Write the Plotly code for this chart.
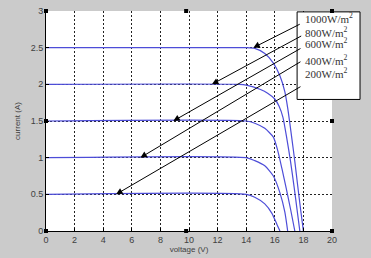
import plotly.graph_objects as go

# ---- data ----
labels = ["1000W/m<sup>2</sup>", "800W/m<sup>2</sup>", "600W/m<sup>2</sup>",
          "400W/m<sup>2</sup>", "200W/m<sup>2</sup>"]

v1000 = [0, 13, 14, 14.6, 15.3, 15.9, 16.35, 16.7, 16.9, 17.05, 17.2, 17.4, 17.6, 17.8, 18.0]
i1000 = [2.5, 2.5, 2.5, 2.49, 2.42, 2.29, 2.12, 1.9, 1.68, 1.47, 1.25, 0.95, 0.62, 0.3, 0]

v800 = [0, 13.5, 14, 15, 15.5, 16, 16.3, 16.57, 16.85, 17.1, 17.35, 17.55, 17.75]
i800 = [2, 2, 1.99, 1.93, 1.88, 1.8, 1.7, 1.55, 1.25, 0.95, 0.6, 0.3, 0]

v600 = [0, 14, 14.6, 15.3, 15.9, 16.2, 16.5, 16.8, 17.1, 17.4]
i600 = [1.5, 1.5, 1.47, 1.4, 1.28, 1.1, 0.85, 0.58, 0.3, 0]

v400 = [0, 14, 14.6, 15.3, 15.9, 16.36, 16.7, 16.9]
i400 = [1, 1, 0.96, 0.89, 0.75, 0.52, 0.26, 0]

v200 = [0, 14, 14.6, 15.3, 15.8, 16.15, 16.36]
i200 = [0.5, 0.5, 0.46, 0.37, 0.24, 0.09, 0]

# arrow heads (on curves) and tails (at legend text)
head_v = [14.5, 11.6, 8.9, 6.6, 4.9]
head_i = [2.5, 2.0, 1.5, 1.0, 0.5]
tail_v = [17.85, 17.95, 17.9, 17.9, 17.9]
tail_i = [2.83, 2.67, 2.5, 2.32, 1.98]
label_i = [2.91, 2.72, 2.56, 2.33, 2.15]

x_ticks = list(range(0, 21, 2))
y_ticks = [0, 0.5, 1, 1.5, 2, 2.5, 3]
y_tick_text = ["0", "0.5", "1", "1.5", "2", "2.5", "3"]

curve_color = "#4d4dd8"

fig = go.Figure()
for vv, ii in [(v1000, i1000), (v800, i800), (v600, i600), (v400, i400), (v200, i200)]:
    fig.add_trace(go.Scatter(x=vv, y=ii, mode="lines",
                             line=dict(color=curve_color, width=1.2, shape="spline", smoothing=0.6),
                             showlegend=False, hoverinfo="skip"))

# legend box
fig.add_shape(type="rect", xref="paper", yref="paper", x0=0.878, x1=1.098, y0=0.598, y1=0.996,
              fillcolor="white", line=dict(color="black", width=1), layer="above")

for k in range(5):
    fig.add_annotation(x=head_v[k], y=head_i[k], ax=tail_v[k], ay=tail_i[k], axref="x", ayref="y",
                       xref="x", yref="y", text="", showarrow=True, arrowhead=2, arrowsize=1.3,
                       arrowwidth=1, arrowcolor="black")
    fig.add_annotation(x=18.0, y=label_i[k], xref="x", yref="y", text=labels[k], showarrow=False,
                       xanchor="left", yanchor="middle",
                       font=dict(family="Liberation Serif", size=11, color="#333333"))

# selection handles
for px, py in [(0, 1), (0.49, 1), (1, 1), (1, 0.5), (1, 0), (0.49, 0), (0, 0), (0, 0.5)]:
    fig.add_shape(type="rect", xref="paper", yref="paper", xsizemode="pixel", ysizemode="pixel",
                  xanchor=px, yanchor=py, x0=-2, x1=2, y0=-2, y1=2,
                  fillcolor="black", line=dict(width=0), layer="above")

fig.update_layout(
    width=371, height=258,
    margin=dict(l=46, r=39, t=6, b=23),
    paper_bgcolor="#cbcbcb",
    plot_bgcolor="white",
    font=dict(family="Arial", size=9, color="#404040"),
    xaxis=dict(range=[0, 20], tickvals=x_ticks, showgrid=True, gridcolor="#222222", griddash="2px,2px",
               gridwidth=1, showline=True, linecolor="black", linewidth=1, ticks="inside",
               ticklen=3, tickcolor="black", zeroline=False,
               title=dict(text="voltage (V)", font=dict(size=8), standoff=2)),
    yaxis=dict(range=[0, 3], tickvals=y_ticks, ticktext=y_tick_text, showgrid=True, gridcolor="#222222",
               griddash="2px,2px", gridwidth=1, showline=True, linecolor="black", linewidth=1,
               ticks="inside", ticklen=3, tickcolor="black", zeroline=False,
               title=dict(text="current (A)", font=dict(size=8), standoff=8)),
)

fig.write_html("out.html")
